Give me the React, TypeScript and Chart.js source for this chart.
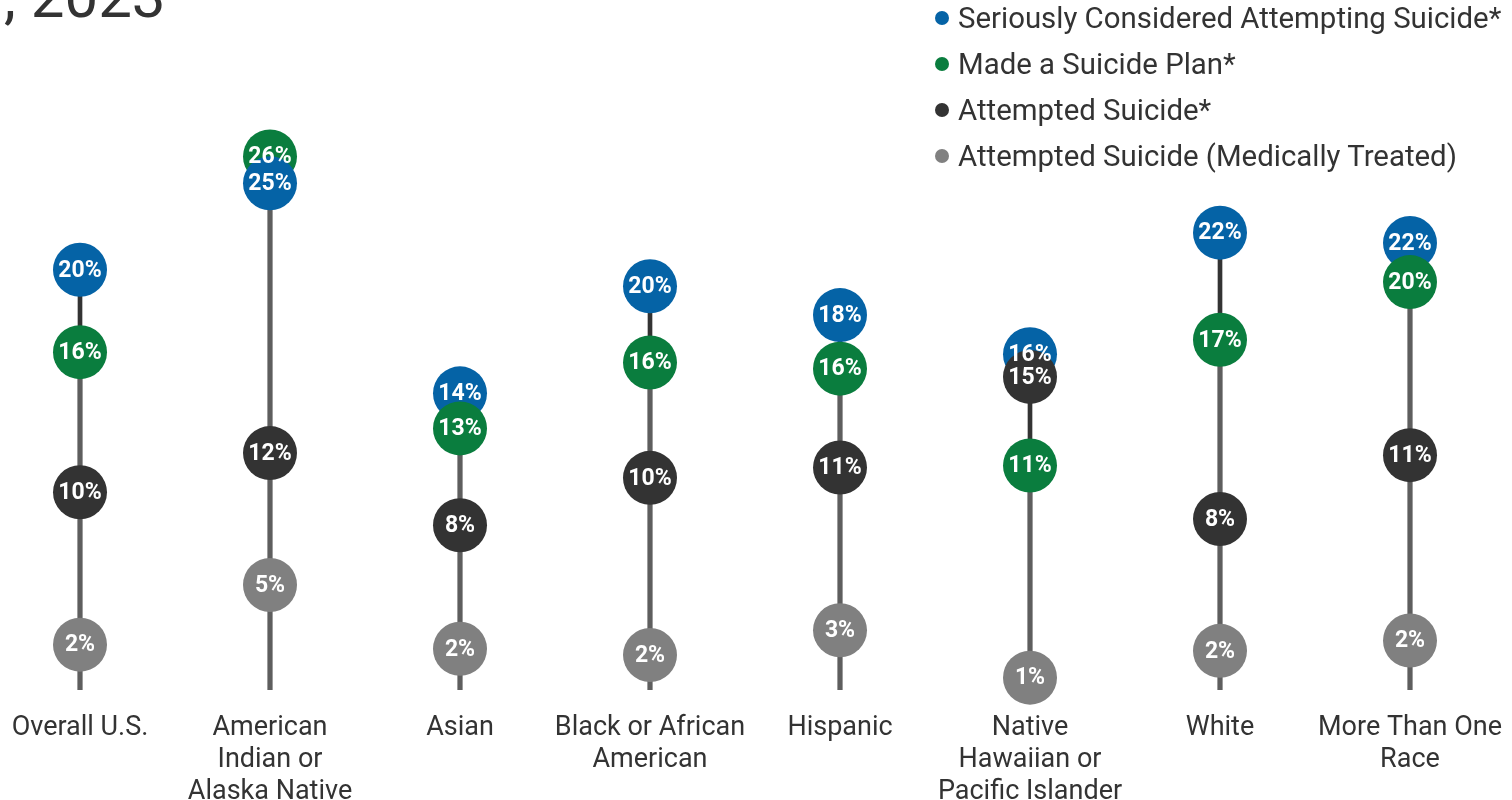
import React, { useEffect, useRef } from 'react';
import { Chart, registerables } from 'chart.js';

Chart.register(...registerables);

const categories: string[][] = [
  ['Overall U.S.'],
  ['American', 'Indian or', 'Alaska Native'],
  ['Asian'],
  ['Black or African', 'American'],
  ['Hispanic'],
  ['Native', 'Hawaiian or', 'Pacific Islander'],
  ['White'],
  ['More Than One', 'Race'],
];

const consideredValues = [20.4, 24.6, 14.4, 19.6, 18.2, 16.3, 22.2, 21.7];
const planValues = [16.4, 25.9, 12.7, 15.9, 15.6, 10.9, 17.0, 19.8];
const attemptedValues = [9.6, 11.5, 8.0, 10.3, 10.8, 15.2, 8.3, 11.4];
const treatedValues = [2.2, 5.1, 2.0, 1.7, 2.9, 0.6, 1.9, 2.4];

const seriesNames = [
  'Seriously Considered Attempting Suicide*',
  'Made a Suicide Plan*',
  'Attempted Suicide*',
  'Attempted Suicide (Medically Treated)',
];
const seriesColors = ['#0563a6', '#0a7d3e', '#333333', '#808080'];

const titleText = ', 2023';

const FONT = 'Roboto, "Noto Sans", sans-serif';

const labelPlugin = {
  id: 'pointLabels',
  afterDatasetsDraw(chart: any) {
    const ctx = chart.ctx;
    ctx.save();
    ctx.font = `bold 23px ${FONT}`;
    ctx.fillStyle = '#ffffff';
    ctx.textAlign = 'center';
    ctx.textBaseline = 'middle';
    chart.data.datasets.forEach((ds: any, di: number) => {
      if (ds.type !== 'scatter') return;
      const meta = chart.getDatasetMeta(di);
      meta.data.forEach((el: any, j: number) => {
        const v = ds.data[j].y;
        ctx.fillText(`${Math.round(v)}%`, el.x, el.y + 1);
      });
    });
    ctx.restore();
  },
};

export default function App() {
  const canvasRef = useRef<HTMLCanvasElement | null>(null);

  useEffect(() => {
    if (!canvasRef.current) return;
    const series = [consideredValues, planValues, attemptedValues, treatedValues];

    const rankDatasets = [0, 1, 2, 3].map((rank) => {
      const pts = categories.map((_, i) => {
        const sorted = series.map((_, k) => k).sort((a, b) => series[b][i] - series[a][i]);
        const k = sorted[rank];
        return { x: i, y: series[k][i], k };
      });
      return {
        type: 'scatter' as const,
        label: `rank${rank}`,
        data: pts.map((p) => ({ x: p.x, y: p.y })),
        pointBackgroundColor: pts.map((p) => seriesColors[p.k]),
        pointBorderWidth: 0,
        pointRadius: 27,
        pointHoverRadius: 27,
        showLine: false,
        clip: false as any,
        order: 4 - rank,
      };
    });

    const chart = new Chart(canvasRef.current, {
      type: 'scatter',
      data: {
        datasets: [
          {
            type: 'bar' as const,
            label: 'stemTop',
            data: categories.map((_, i) => ({ x: i, y: [0, Math.max(...series.map((s) => s[i]))] })) as any,
            backgroundColor: '#333333',
            barThickness: 4,
            grouped: false,
            order: 10,
          } as any,
          {
            type: 'bar' as const,
            label: 'stemBase',
            data: categories.map((_, i) => ({ x: i, y: [0, planValues[i]] })) as any,
            backgroundColor: '#5e5e5e',
            barThickness: 4,
            grouped: false,
            order: 9,
          } as any,
          ...rankDatasets,
        ] as any,
      },
      options: {
        animation: false,
        responsive: false,
        events: [],
        layout: { padding: 0, autoPadding: false } as any,
        plugins: {
          legend: { display: false },
          tooltip: { enabled: false },
          title: { display: false },
        },
        scales: {
          x: {
            type: 'linear',
            offset: false,
            min: -80 / 190,
            max: 1432 / 190,
            bounds: 'data',
            grid: { display: false, drawTicks: false, offset: false },
            border: { display: false },
            ticks: {
              autoSkip: false,
              maxRotation: 0,
              minRotation: 0,
              padding: 22,
              color: '#333333',
              font: { family: FONT, size: 27, lineHeight: 32 / 27 },
              callback: (v: any) => categories[Math.round(Number(v))] ?? '',
            },
            afterBuildTicks: (axis: any) => {
              axis.ticks = categories.map((_, i) => ({ value: i }));
            },
            afterFit: (axis: any) => {
              axis.height = 110;
              axis.paddingLeft = 0;
              axis.paddingRight = 0;
            },
          } as any,
          y: {
            display: false,
            min: 0,
            max: 690 / 20.6,
          },
        },
      },
      plugins: [labelPlugin],
    });

    return () => chart.destroy();
  }, []);

  return (
    <div
      style={{
        position: 'absolute',
        left: 0,
        top: 0,
        width: 1512,
        height: 800,
        overflow: 'hidden',
        background: '#ffffff',
        fontFamily: FONT,
      }}
    >
      <canvas ref={canvasRef} width={1512} height={800} style={{ display: 'block', position: 'absolute', left: 0, top: 0 }} />
      <div
        style={{
          position: 'absolute',
          left: 4,
          top: -33,
          fontSize: 60,
          lineHeight: '60px',
          color: '#333333',
          whiteSpace: 'nowrap',
        }}
      >
        {titleText}
      </div>
      <div style={{ position: 'absolute', left: 935, top: -5 }}>
        {seriesNames.map((name, i) => (
          <div key={name} style={{ display: 'flex', alignItems: 'center', height: 46, whiteSpace: 'nowrap' }}>
            <span
              style={{
                display: 'inline-block',
                width: 14,
                height: 14,
                borderRadius: '50%',
                background: seriesColors[i],
                marginRight: 9,
                flex: 'none',
              }}
            />
            <span style={{ fontSize: 29.4, color: '#333333', lineHeight: '46px' }}>{name}</span>
          </div>
        ))}
      </div>
    </div>
  );
}
